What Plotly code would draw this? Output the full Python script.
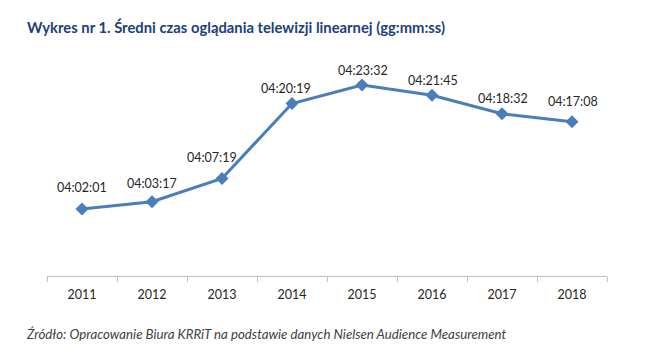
import plotly.graph_objects as go

years = ["2011", "2012", "2013", "2014", "2015", "2016", "2017", "2018"]
labels = ["04:02:01", "04:03:17", "04:07:19", "04:20:19", "04:23:32", "04:21:45", "04:18:32", "04:17:08"]

def to_sec(s):
    h, m, sec = (int(p) for p in s.split(":"))
    return h * 3600 + m * 60 + sec

values = [to_sec(s) for s in labels]

# label placement tweaks (pixels): horizontal and vertical offsets of data labels
label_dx = [0, 0, -10, -6, 1, 1, 1, 1]
label_dy = [22, 18, 21, 15, 14, 15, 15, 20]

W, H = 655, 364
L, R, T, B = 47, 48, 60, 88
y_min = 13824  # 03:50:24
px_per_s = 0.0961
y_max = y_min + (H - T - B) / px_per_s

line_color = "#4a7ebb"
text_color = "#262626"

fig = go.Figure()
fig.add_trace(go.Scatter(
    x=years, y=values, mode="lines+markers",
    line=dict(color=line_color, width=3),
    marker=dict(symbol="diamond", size=10, color=line_color),
    hoverinfo="skip", showlegend=False,
))

annotations = []
for i, (v, lab) in enumerate(zip(values, labels)):
    annotations.append(dict(
        x=i, y=v, xref="x", yref="y", text=lab, showarrow=False,
        xshift=label_dx[i], yshift=label_dy[i],
        font=dict(family="Lato, Carlito, sans-serif", size=12.5, color=text_color),
    ))

def paper_x(px):
    return (px - L) / (W - L - R)

def paper_y(py):
    return (H - py - B) / (H - T - B)

annotations.append(dict(
    x=paper_x(25), y=paper_y(27), xref="paper", yref="paper", xanchor="left", yanchor="middle",
    showarrow=False, text="<b>Wykres nr 1. Średni czas oglądania telewizji linearnej (gg:mm:ss)</b>",
    font=dict(family="Lato, sans-serif", size=14.8, color="#203f7a"),
))
annotations.append(dict(
    x=paper_x(24), y=paper_y(334), xref="paper", yref="paper", xanchor="left", yanchor="middle",
    showarrow=False, text="<i>Źródło: Opracowanie Biura KRRiT na podstawie danych Nielsen Audience Measurement</i>",
    font=dict(family="Lato, sans-serif", size=13.25, color="#404040"),
))

fig.update_layout(
    width=W, height=H,
    margin=dict(l=L, r=R, t=T, b=B),
    paper_bgcolor="white", plot_bgcolor="white",
    annotations=annotations,
    xaxis=dict(
        type="category", tickson="boundaries", ticks="outside", ticklen=5,
        ticklabelstandoff=7,
        tickcolor="#bfbfbf", showline=True, linecolor="#bfbfbf", linewidth=1,
        showgrid=False, zeroline=False, range=[-0.5, 7.5],
        tickfont=dict(family="Lato, Carlito, sans-serif", size=12.5, color=text_color),
    ),
    yaxis=dict(
        range=[y_min, y_max], visible=False, showgrid=False, zeroline=False,
    ),
)

fig.write_html("out.html", config={"displayModeBar": False},
               post_script="document.body.style.margin='0';")
